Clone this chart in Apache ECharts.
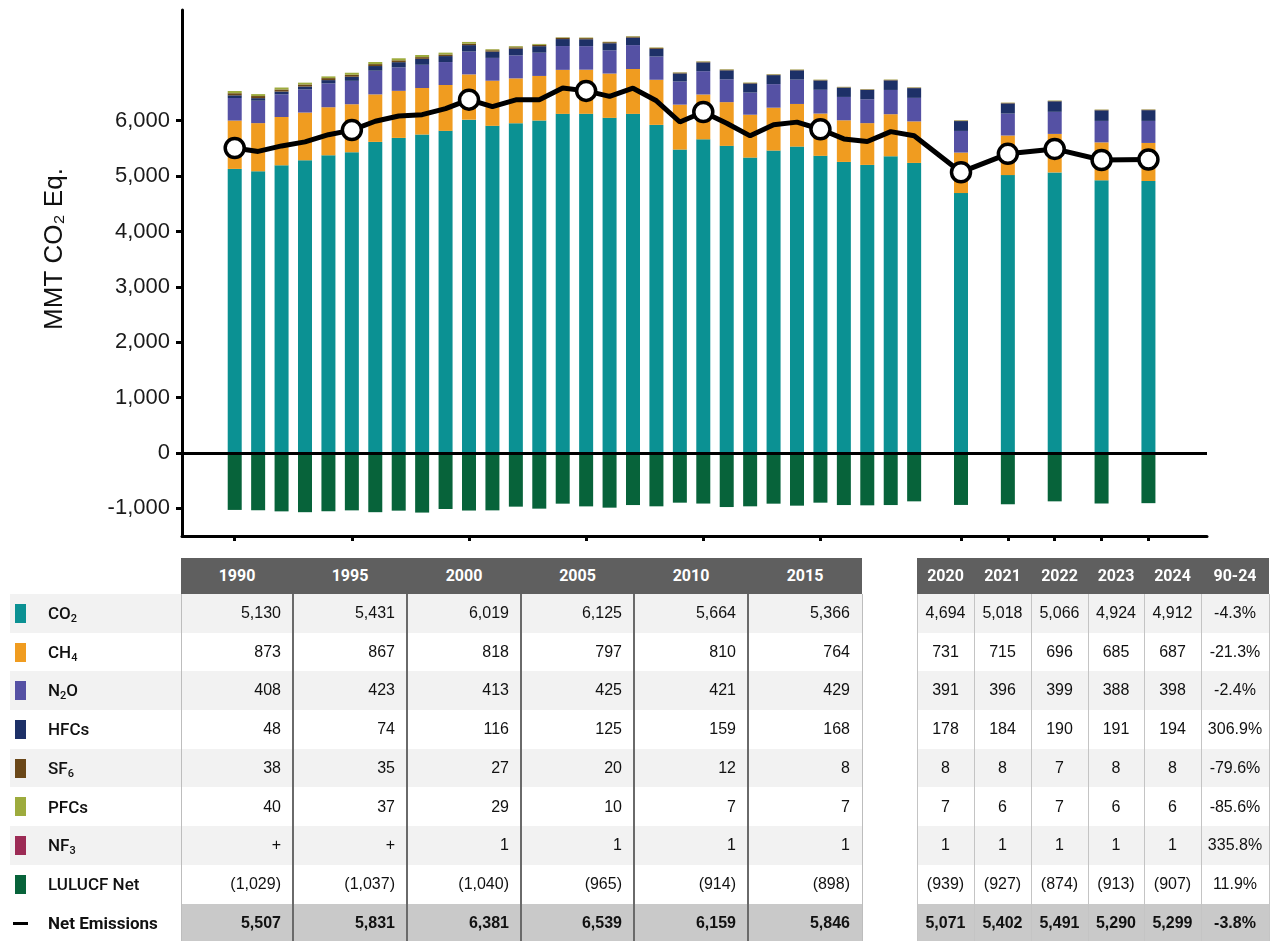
<!DOCTYPE html>
<html>
<head>
<meta charset="utf-8">
<title>U.S. Greenhouse Gas Emissions and Sinks</title>
<script src="https://cdn.jsdelivr.net/npm/echarts@6.0.0/dist/echarts.min.js"></script>
<style>
  html, body { margin: 0; padding: 0; background: #fff; }
  #wrap { position: relative; width: 1276px; height: 941px; overflow: hidden; }
  #chart { position: absolute; left: 0; top: 0; width: 1276px; height: 941px; }
  #table { position: absolute; left: 0; top: 0; width: 1276px; height: 941px; pointer-events: none; }
  .hd { color: #fff; font: 700 16px Roboto, 'Liberation Sans', sans-serif; text-align: center; }
  .val { color: #111; font: 16px 'Liberation Sans', Arial, sans-serif; white-space: nowrap; }
  .lab { color: #111; font: 500 17px Roboto, 'Liberation Sans', sans-serif; white-space: nowrap; }
  .sub { font-size: 11px; position: relative; top: 3px; }
</style>
</head>
<body>
<div id="wrap">
  <div id="chart"></div>
  <div id="table"></div>
</div>
<script>
// ---- data (MMT CO2 Eq.) ----
const years = [1990, 1991, 1992, 1993, 1994, 1995, 1996, 1997, 1998, 1999,
  2000, 2001, 2002, 2003, 2004, 2005, 2006, 2007, 2008, 2009,
  2010, 2011, 2012, 2013, 2014, 2015, 2016, 2017, 2018, 2019,
  2020, 2021, 2022, 2023, 2024]
const co2 = [5130, 5087, 5195, 5286, 5376, 5431, 5618, 5690, 5751, 5817,
  6019, 5908, 5955, 6004, 6124, 6125, 6052, 6124, 5925, 5479,
  5664, 5546, 5334, 5461, 5533, 5366, 5256, 5202, 5358, 5238,
  4694, 5018, 5066, 4924, 4912]
const ch4 = [873, 870, 872, 862, 868, 867, 858, 850, 840, 828,
  818, 815, 810, 805, 795, 797, 800, 810, 815, 812,
  810, 790, 775, 775, 770, 764, 752, 755, 760, 750,
  731, 715, 696, 685, 687]
const n2o = [408, 405, 410, 418, 430, 423, 428, 425, 420, 415,
  413, 412, 415, 420, 430, 425, 420, 432, 420, 418,
  421, 412, 400, 425, 440, 429, 422, 430, 438, 425,
  391, 396, 399, 388, 398]
const hfcs = [48, 46, 50, 52, 60, 74, 84, 93, 107, 108,
  116, 113, 120, 118, 126, 125, 128, 135, 139, 145,
  159, 162, 163, 163, 167, 168, 168, 170, 173, 176,
  178, 184, 190, 191, 194]
const sf6 = [38, 38, 37, 37, 36, 35, 35, 33, 31, 29,
  27, 25, 26, 24, 23, 20, 19, 18, 16, 14,
  12, 12, 10, 10, 9, 8, 8, 8, 8, 8,
  8, 8, 7, 8, 8]
const pfcs = [40, 35, 36, 33, 31, 37, 38, 37, 38, 33,
  29, 18, 20, 15, 9, 10, 7, 9, 8, 6,
  7, 8, 8, 7, 7, 7, 6, 6, 7, 6,
  7, 6, 7, 6, 6]
const nf3 = [0.4, 0.4, 0.4, 0.4, 0.4, 0.4, 0.4, 0.4, 0.4, 0.4,
  1, 1, 1, 1, 1, 1, 1, 1, 1, 1,
  1, 1, 1, 1, 1, 1, 1, 1, 1, 1,
  1, 1, 1, 1, 1]
const lulucf = [-1029, -1035, -1055, -1070, -1053, -1037, -1070, -1042, -1077, -1012,
  -1040, -1037, -970, -1006, -916, -965, -988, -941, -964, -898,
  -914, -977, -964, -916, -952, -898, -941, -946, -941, -874,
  -939, -927, -874, -913, -907]
const netEmissions = [5507, 5446, 5545, 5618, 5748, 5831, 5991, 6086, 6110, 6218,
  6381, 6255, 6377, 6381, 6592, 6539, 6439, 6588, 6360, 5977,
  6159, 5954, 5727, 5926, 5975, 5846, 5672, 5626, 5804, 5730,
  5071, 5402, 5491, 5290, 5299]
// years shown in the table and marked on the line
const tableYearsLeft = [1990, 1995, 2000, 2005, 2010, 2015]
const tableYearsRight = [2020, 2021, 2022, 2023, 2024]
const changeLabel = '90-24'
const change9024 = ['-4.3%', '-21.3%', '-2.4%', '306.9%', '-79.6%', '-85.6%', '335.8%', '11.9%', '-3.8%']
const yTicks = [-1000, 0, 1000, 2000, 3000, 4000, 5000, 6000]

// ---- style ----
const colors = {
  co2: '#0b9193', ch4: '#f09c20', n2o: '#5551a4', hfcs: '#1d3067',
  sf6: '#6a4718', pfcs: '#9dab3d', nf3: '#9c2b55', lulucf: '#07633a'
}

// after 2019 the years are drawn two slots apart
const xPos = y => (y <= 2019 ? y : 2019 + 2 * (y - 2019))
const markerYears = tableYearsLeft.concat(tableYearsRight)

// value first, position second: the stack then runs on the value (y) dimension
const barSeries = [
  ['CO2', co2, colors.co2],
  ['CH4', ch4, colors.ch4],
  ['N2O', n2o, colors.n2o],
  ['HFCs', hfcs, colors.hfcs],
  ['SF6', sf6, colors.sf6],
  ['PFCs', pfcs, colors.pfcs],
  ['NF3', nf3, colors.nf3],
  ['LULUCF Net', lulucf, colors.lulucf]
].map(([name, vals, color], i) => ({
  name,
  type: 'bar',
  stack: 'total',
  barWidth: 14,
  encode: { x: 1, y: 0 },
  itemStyle: { color },
  data: vals.map((v, k) => [v, xPos(years[k])]),
  // zero line drawn once on the first series
  markLine: i === 0 ? {
    silent: true,
    symbol: 'none',
    label: { show: false },
    lineStyle: { color: '#000', width: 3, type: 'solid' },
    data: [{ yAxis: 0 }]
  } : undefined
}))

const chart = echarts.init(document.getElementById('chart'))
chart.setOption({
  animation: false,
  grid: { left: 182, right: 69, top: 10, bottom: 405 },
  xAxis: {
    type: 'value',
    min: 1987.75,
    max: 2031.5,
    axisLine: { onZero: false, lineStyle: { color: '#000', width: 3 } },
    axisTick: { customValues: markerYears.map(xPos), length: 5, lineStyle: { color: '#000', width: 3 } },
    axisLabel: { show: false },
    splitLine: { show: false }
  },
  yAxis: {
    type: 'value',
    min: -1500,
    max: 8000,
    axisLine: { show: true, lineStyle: { color: '#000', width: 3 } },
    axisTick: { show: true, customValues: yTicks, length: 6, lineStyle: { color: '#000', width: 3 } },
    axisLabel: {
      customValues: yTicks,
      formatter: v => v.toLocaleString('en-US'),
      fontSize: 22,
      color: '#1a1a1a',
      fontFamily: 'Liberation Sans',
      margin: 12
    },
    splitLine: { show: false }
  },
  graphic: [{
    type: 'text',
    x: 55,
    y: 249,
    rotation: Math.PI / 2,
    style: {
      text: 'MMT CO₂ Eq.',
      font: '26px "Liberation Sans", Arial, sans-serif',
      fill: '#111',
      align: 'center',
      verticalAlign: 'middle'
    }
  }],
  series: barSeries.concat([{
    name: 'Net Emissions',
    type: 'line',
    z: 5,
    data: netEmissions.map((v, k) => ({
      value: [xPos(years[k]), v],
      symbol: markerYears.includes(years[k]) ? 'circle' : 'none'
    })),
    symbolSize: 19,
    lineStyle: { color: '#000', width: 5 },
    itemStyle: { color: '#fff', borderColor: '#000', borderWidth: 3.5 }
  }])
})

// ---- data table under the chart ----
const tbl = document.getElementById('table')
function box (x, y, w, h, css, cls, html) {
  const d = document.createElement('div')
  d.style.cssText = `position:absolute;left:${x}px;top:${y}px;width:${w}px;height:${h}px;${css || ''}`
  if (cls) d.className = cls
  if (html != null) d.innerHTML = html
  tbl.appendChild(d)
  return d
}
const sub = s => `<span class="sub">${s}</span>`
const rows = [
  { label: 'CO' + sub('2'), color: colors.co2, vals: co2 },
  { label: 'CH' + sub('4'), color: colors.ch4, vals: ch4 },
  { label: 'N' + sub('2') + 'O', color: colors.n2o, vals: n2o },
  { label: 'HFCs', color: colors.hfcs, vals: hfcs },
  { label: 'SF' + sub('6'), color: colors.sf6, vals: sf6 },
  { label: 'PFCs', color: colors.pfcs, vals: pfcs },
  { label: 'NF' + sub('3'), color: colors.nf3, vals: nf3 },
  { label: 'LULUCF Net', color: colors.lulucf, vals: lulucf },
  { label: 'Net Emissions', color: null, vals: netEmissions, net: true }
]
const fmt = v => {
  if (Math.abs(v) < 0.5) return '+'
  const s = Math.round(Math.abs(v)).toLocaleString('en-US')
  return v < 0 ? `(${s})` : s
}
const leftEdges = [181, 293, 407, 521, 634, 748, 862]
const rightEdges = [917, 974, 1031, 1088, 1144, 1201, 1269]
const headTop = 558, headH = 36, rowTop = 594, rowH = 38.7

// headers
box(leftEdges[0], headTop, leftEdges[6] - leftEdges[0], headH, 'background:#5f5f5f')
box(rightEdges[0], headTop, rightEdges[6] - rightEdges[0], headH, 'background:#5f5f5f')
tableYearsLeft.forEach((y, c) => box(leftEdges[c], headTop, leftEdges[c + 1] - leftEdges[c], headH, `line-height:${headH}px`, 'hd', y))
tableYearsRight.concat([changeLabel]).forEach((y, c) => box(rightEdges[c], headTop, rightEdges[c + 1] - rightEdges[c], headH, `line-height:${headH}px`, 'hd', y))

rows.forEach((r, i) => {
  const top = rowTop + i * rowH
  if (r.net) {
    box(leftEdges[0], top, leftEdges[6] - leftEdges[0], 40, 'background:#c9c9c9')
    box(rightEdges[0], top, rightEdges[6] - rightEdges[0], 40, 'background:#c9c9c9')
  } else if (i % 2 === 0) {
    box(10, top, leftEdges[6] - 10, rowH, 'background:#f2f2f2')
    box(rightEdges[0], top, rightEdges[6] - rightEdges[0], rowH, 'background:#f2f2f2')
  }
  if (r.color) box(15, top + (rowH - 19) / 2, 11, 19, `background:${r.color}`)
  else box(13, top + rowH / 2 - 1, 15, 3, 'background:#000')
  box(48, top, 130, rowH, `line-height:${rowH}px;${r.net ? 'font-weight:700' : ''}`, 'lab', r.label)
  const bold = r.net ? 'font-weight:700;' : ''
  tableYearsLeft.forEach((y, c) => {
    const v = r.vals[years.indexOf(y)]
    box(leftEdges[c], top, leftEdges[c + 1] - leftEdges[c] - 12, rowH, `${bold}line-height:${rowH}px;text-align:right`, 'val', fmt(v))
  })
  tableYearsRight.forEach((y, c) => {
    const v = r.vals[years.indexOf(y)]
    box(rightEdges[c], top, rightEdges[c + 1] - rightEdges[c], rowH, `${bold}line-height:${rowH}px;text-align:center`, 'val', fmt(v))
  })
  box(rightEdges[5], top, rightEdges[6] - rightEdges[5], rowH, `${bold}line-height:${rowH}px;text-align:center`, 'val', change9024[i])
})

// column rules
const bodyH = 941 - rowTop
leftEdges.forEach((x, c) => {
  const inner = c > 0 && c < leftEdges.length - 1
  box(inner ? x - 1 : x, rowTop, inner ? 2 : 1, bodyH, `background:${inner ? '#6a6a6a' : '#bdbdbd'}`)
})
rightEdges.forEach(x => box(x, rowTop, 1, bodyH, 'background:#c4c4c4'))

window.addEventListener('resize', () => chart.resize())
</script>
</body>
</html>
